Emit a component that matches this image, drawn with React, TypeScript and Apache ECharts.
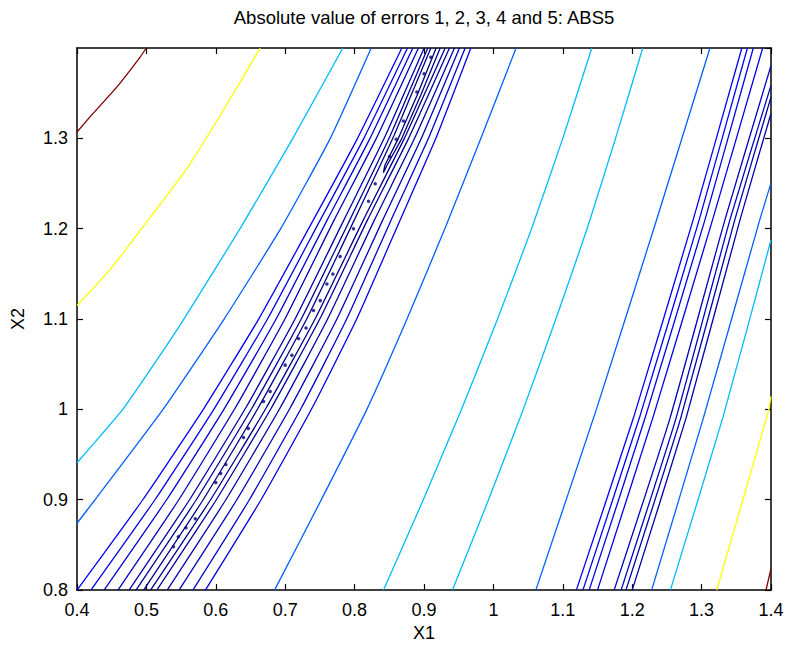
import React, { useEffect, useRef } from "react";
import * as echarts from "echarts";

const FONT = "'Liberation Sans', Arial, Helvetica, sans-serif";
const TITLE = "Absolute value of errors 1, 2, 3, 4 and 5: ABS5";
const X_NAME = "X1";
const Y_NAME = "X2";

// level colours (jet-like)
const C_DARKRED = "#800000";
const C_YELLOW = "#FFFF00";
const C_CYAN = "#00BBFF";
const C_MBLUE = "#0060FF";
const BAND_SHADES = ["#0000FA", "#0000E6", "#0000D2", "#0000BE", "#0000AA", "#00009A", "#00008A"];

// single contour lines, [x1, x2]
const darkRedTopLeft = [[0.4, 1.307], [0.419, 1.324], [0.4576, 1.357], [0.491, 1.39], [0.4999, 1.4]];
const yellowLeft = [[0.4, 1.115], [0.448, 1.155], [0.503, 1.21], [0.557, 1.265], [0.61, 1.33], [0.664, 1.4]];
const cyanLeft = [[0.4, 0.941], [0.434, 0.971], [0.466, 1.0], [0.511, 1.05], [0.554, 1.1], [0.635, 1.2], [0.711, 1.3], [0.783, 1.4]];
const mblueLeft = [[0.4, 0.874], [0.426, 0.9], [0.524, 1.0], [0.612, 1.1], [0.6935, 1.2], [0.765, 1.3], [0.824, 1.4]];
const mblueMid = [[0.6846, 0.8], [0.752, 0.9], [0.8177, 1.0], [0.8755, 1.1], [0.93, 1.2], [0.982, 1.3], [1.0327, 1.4]];
const cyanMid = [[0.8416, 0.8], [0.899, 0.9], [0.954, 1.0], [1.006, 1.1], [1.055, 1.2], [1.1, 1.3], [1.1418, 1.4]];
const cyanMid2 = [[0.941, 0.8], [0.993, 0.9], [1.043, 1.0], [1.09, 1.1], [1.135, 1.2], [1.176, 1.3], [1.2152, 1.4]];
const mblueRight = [[1.0611, 0.8], [1.149, 1.0014], [1.2354, 1.2105], [1.3121, 1.4]];
const mblueRight2 = [[1.228, 0.8], [1.3025, 0.9904], [1.384, 1.2103], [1.4, 1.2505]];
const cyanRight = [[1.255, 0.8], [1.3304, 0.9904], [1.4, 1.1875]];
const yellowRight = [[1.3218, 0.8], [1.3961, 0.9978], [1.4, 1.0143]];
const darkRedBottomRight = [[1.3928, 0.8], [1.4, 0.8237]];

// right band: x at y = 0.8, 0.9904, 1.2103, then end point
const rightBandY = [0.8, 0.9904, 1.2103];
const rightBand1 = [1.1195, 1.2017, 1.288];
const rightBand2 = [1.129, 1.2103, 1.2967];
const rightBand3 = [1.138, 1.2185, 1.305];
const rightBand4 = [1.15, 1.2296, 1.316];
const rightBand5 = [1.174, 1.2545, 1.3338];
const rightBand6 = [1.184, 1.2632, 1.341];
const rightBand7 = [1.191, 1.2699, 1.348];
const rightBand8 = [1.2, 1.2776, 1.3555];
const rightBandEnds = [[1.358, 1.4], [1.366, 1.4], [1.3745, 1.4], [1.388, 1.4], [1.4, 1.3805], [1.4, 1.3586], [1.4, 1.3457], [1.4, 1.3275]];

// main valley band: x at the y levels below
const bandY = [0.8, 0.9, 1.0015, 1.1, 1.2103, 1.3, 1.4];
const bandL1 = [0.4, 0.4948, 0.5832, 0.6618, 0.741, 0.8042, 0.8681];
const bandL2 = [0.42, 0.5123, 0.5983, 0.6745, 0.751, 0.8133, 0.8762];
const bandL3 = [0.439, 0.5291, 0.6128, 0.6869, 0.761, 0.8222, 0.8839];
const bandL4 = [0.459, 0.5467, 0.6279, 0.6996, 0.771, 0.8313, 0.892];
const bandL5 = [0.475, 0.5622, 0.643, 0.7142, 0.785, 0.8426, 0.9002];
const bandL6 = [0.485, 0.5719, 0.6522, 0.7231, 0.7935, 0.8496, 0.9055];
const bandL7 = [0.496, 0.5818, 0.661, 0.731, 0.8, 0.855, 0.9099];
const bandR7 = [0.506, 0.5925, 0.6725, 0.743, 0.813, 0.8717, 0.9305];
const bandR6 = [0.515, 0.6008, 0.68, 0.7498, 0.819, 0.8778, 0.9367];
const bandR5 = [0.53, 0.6145, 0.6926, 0.7611, 0.829, 0.8864, 0.9439];
const bandR4 = [0.547, 0.6303, 0.7071, 0.7745, 0.841, 0.8962, 0.9511];
const bandR3 = [0.567, 0.6484, 0.7232, 0.7886, 0.853, 0.9064, 0.9593];
const bandR2 = [0.585, 0.6652, 0.7387, 0.803, 0.866, 0.9171, 0.9675];
// inner closed tongue near the top of the valley
const valleyTongue = [[0.9175, 1.4], [0.8913, 1.35], [0.8631, 1.3], [0.8435, 1.27], [0.8415, 1.262], [0.8465, 1.27], [0.8681, 1.3], [0.8965, 1.35], [0.9233, 1.4]];

// tiny closed contours along the valley floor
const valleyDots = [[0.539, 0.848], [0.546, 0.859], [0.557, 0.869], [0.5704, 0.879], [0.6, 0.919], [0.607, 0.929], [0.6145, 0.939], [0.64, 0.969], [0.6468, 0.979], [0.6688, 1.0088], [0.6784, 1.0198], [0.7, 1.049], [0.7097, 1.06], [0.7192, 1.0784], [0.73, 1.09], [0.7408, 1.1095], [0.7505, 1.1204], [0.7601, 1.1388], [0.7687, 1.1498], [0.7792, 1.1692], [0.7984, 1.2], [0.82, 1.2303], [0.8297, 1.2498], [0.8503, 1.2798], [0.86, 1.2989], [0.8704, 1.3193], [0.8897, 1.3512], [0.9002, 1.3714], [0.9099, 1.3897]];

function zipLine(xs: number[], ys: number[], end?: number[]) {
  const pts = xs.map((x, i) => [x, ys[i]]);
  if (end) pts.push(end);
  return pts;
}

export default function App() {
  const ref = useRef<HTMLDivElement>(null);
  useEffect(() => {
    if (!ref.current) return;
    const chart = echarts.init(ref.current, undefined, { renderer: "svg" });
    const lines: { data: number[][]; color: string; smooth?: number }[] = [
      { data: darkRedTopLeft, color: C_DARKRED },
      { data: yellowLeft, color: C_YELLOW },
      { data: cyanLeft, color: C_CYAN },
      { data: mblueLeft, color: C_MBLUE },
      { data: mblueMid, color: C_MBLUE },
      { data: cyanMid, color: C_CYAN },
      { data: cyanMid2, color: C_CYAN },
      { data: mblueRight, color: C_MBLUE },
      { data: mblueRight2, color: C_MBLUE },
      { data: cyanRight, color: C_CYAN },
      { data: yellowRight, color: C_YELLOW },
      { data: darkRedBottomRight, color: C_DARKRED },
    ];
    const rb = [rightBand1, rightBand2, rightBand3, rightBand4, rightBand5, rightBand6, rightBand7, rightBand8];
    const rbShade = [0, 0, 1, 1, 3, 3, 4, 4];
    rb.forEach((xs, i) => lines.push({ data: zipLine(xs, rightBandY, rightBandEnds[i]), color: BAND_SHADES[rbShade[i]] }));
    const left = [bandL1, bandL2, bandL3, bandL4, bandL5, bandL6, bandL7];
    left.forEach((xs, i) => lines.push({ data: zipLine(xs, bandY), color: BAND_SHADES[i] }));
    const right = [bandR2, bandR3, bandR4, bandR5, bandR6, bandR7];
    right.forEach((xs, i) => lines.push({ data: zipLine(xs, bandY), color: BAND_SHADES[i + 1] }));
    lines.push({ data: valleyTongue, color: "#000080", smooth: 0 });

    const series: any[] = lines.map((l) => ({
      type: "line",
      data: l.data,
      showSymbol: false,
      symbol: "none",
      smooth: l.smooth === undefined ? 0.15 : l.smooth,
      clip: true,
      lineStyle: { color: l.color, width: 1.3 },
      silent: true,
    }));
    series.push({
      type: "scatter",
      data: valleyDots,
      symbolSize: 3.5,
      itemStyle: { color: "#00007A" },
      silent: true,
    });

    const axisLine = { show: true, onZero: false, lineStyle: { color: "#000", width: 1.5 } };
    const axisTick = { show: true, inside: true, length: 6, lineStyle: { color: "#000", width: 1.2 } };
    const label = { color: "#000", fontSize: 18, fontFamily: FONT };

    chart.setOption({
      animation: false,
      backgroundColor: "#fff",
      grid: { left: 77, right: 16, top: 48, bottom: 54, containLabel: false },
      graphic: [
        {
          type: "text",
          x: 424,
          y: 17,
          style: { text: TITLE, fill: "#000", font: `18.5px ${FONT}`, textAlign: "center", textVerticalAlign: "middle" },
        },
      ],
      xAxis: [
        {
          type: "value", min: 0.4, max: 1.4, interval: 0.1, position: "bottom",
          axisLine, axisTick, splitLine: { show: false },
          axisLabel: { ...label, margin: 11 },
          name: X_NAME, nameLocation: "middle", nameGap: 29,
          nameTextStyle: { color: "#000", fontSize: 18, fontFamily: FONT },
        },
        {
          type: "value", min: 0.4, max: 1.4, interval: 0.1, position: "top",
          axisLine, axisTick, splitLine: { show: false }, axisLabel: { show: false },
        },
      ],
      yAxis: [
        {
          type: "value", min: 0.8, max: 1.4, interval: 0.1, position: "left",
          axisLine, axisTick, splitLine: { show: false },
          axisLabel: { ...label, margin: 9, showMaxLabel: false },
          name: Y_NAME, nameLocation: "middle", nameGap: 50, nameRotate: 90,
          nameTextStyle: { color: "#000", fontSize: 18, fontFamily: FONT },
        },
        {
          type: "value", min: 0.8, max: 1.4, interval: 0.1, position: "right",
          axisLine, axisTick, splitLine: { show: false }, axisLabel: { show: false },
        },
      ],
      series,
    });
    return () => chart.dispose();
  }, []);
  return <div ref={ref} style={{ position: "absolute", left: 0, top: 0, width: 787, height: 647 }} />;
}
